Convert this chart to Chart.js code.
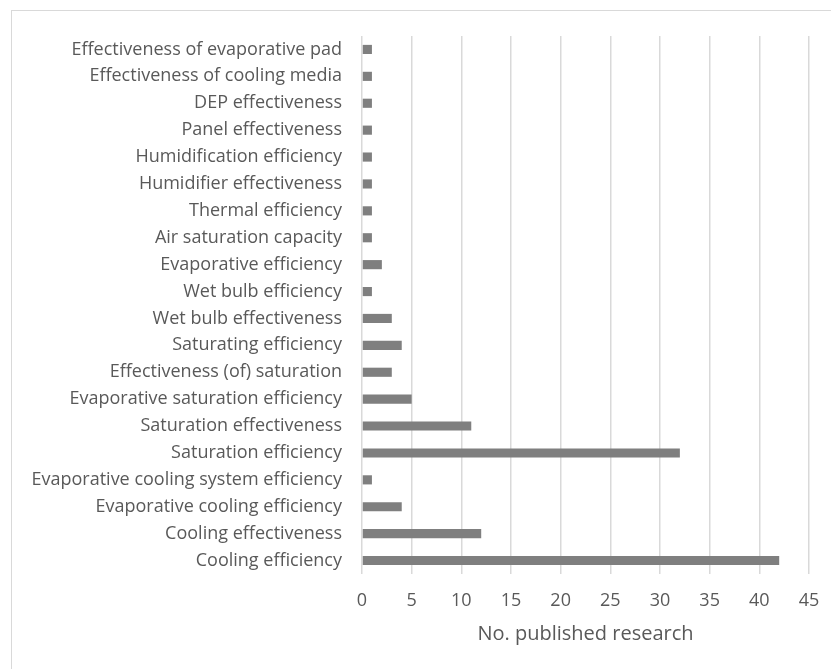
<!DOCTYPE html>
<html>
<head>
<meta charset="utf-8">
<script src="https://cdn.jsdelivr.net/npm/chart.js@4.4.0/dist/chart.umd.min.js"></script>
<style>
    html, body { margin: 0; padding: 0; background: #fff; overflow: hidden; }
    #wrap { position: relative; width: 831px; height: 669px; }
    #frame { position: absolute; left: 11px; top: 10px; width: 900px; height: 800px; border: 1.5px solid #d9d9d9; box-sizing: border-box; }
    canvas { position: absolute; left: 0; top: 0; }
</style>
</head>
<body>
<div id="wrap">
    <div id="frame"></div>
    <canvas id="chart" width="831" height="669"></canvas>
</div>
<script>
const categories = [
    'Effectiveness of evaporative pad',
    'Effectiveness of cooling media',
    'DEP effectiveness',
    'Panel effectiveness',
    'Humidification efficiency',
    'Humidifier effectiveness',
    'Thermal efficiency',
    'Air saturation capacity',
    'Evaporative efficiency',
    'Wet bulb efficiency',
    'Wet bulb effectiveness',
    'Saturating efficiency',
    'Effectiveness (of) saturation',
    'Evaporative saturation efficiency',
    'Saturation effectiveness',
    'Saturation efficiency',
    'Evaporative cooling system efficiency',
    'Evaporative cooling efficiency',
    'Cooling effectiveness',
    'Cooling efficiency'
];
const publications = [1, 1, 1, 1, 1, 1, 1, 1, 2, 1, 3, 4, 3, 5, 11, 32, 1, 4, 12, 42];
const xTicks = [0, 5, 10, 15, 20, 25, 30, 35, 40, 45];

const ctx = document.getElementById('chart').getContext('2d');
const chart = new Chart(ctx, {
    type: 'bar',
    data: {
        labels: categories,
        datasets: [{
            data: publications,
            backgroundColor: '#7f7f7f',
            borderWidth: 0,
            barPercentage: 0.34,
            categoryPercentage: 1
        }]
    },
    options: {
        indexAxis: 'y',
        responsive: false,
        animation: false,
        layout: { padding: { top: 36, right: 22, bottom: 0, left: 0 } },
        plugins: { legend: { display: false }, tooltip: { enabled: false } },
        scales: {
            x: {
                min: 0,
                max: 45,
                afterBuildTicks: scale => { scale.ticks = xTicks.map(v => ({ value: v })); },
                afterFit: scale => {
                    scale.height = 95;
                    scale.paddingLeft = 0;
                    scale.paddingRight = 0;
                },
                ticks: { color: '#595959', font: { family: 'Open Sans', size: 18 }, padding: 16 },
                grid: { color: '#d9d9d9', lineWidth: 1.5, drawTicks: false },
                border: { display: false },
                title: {
                    display: true,
                    text: 'No. published research',
                    color: '#595959',
                    font: { family: 'Open Sans', size: 20 },
                    padding: { top: 0, bottom: 23 }
                }
            },
            y: {
                afterFit: scale => { scale.width = 362; },
                ticks: { color: '#595959', font: { family: 'Open Sans', size: 18 }, padding: 20, autoSkip: false },
                grid: { display: false, drawTicks: false },
                border: { display: false }
            }
        }
    }
});
</script>
</body>
</html>
